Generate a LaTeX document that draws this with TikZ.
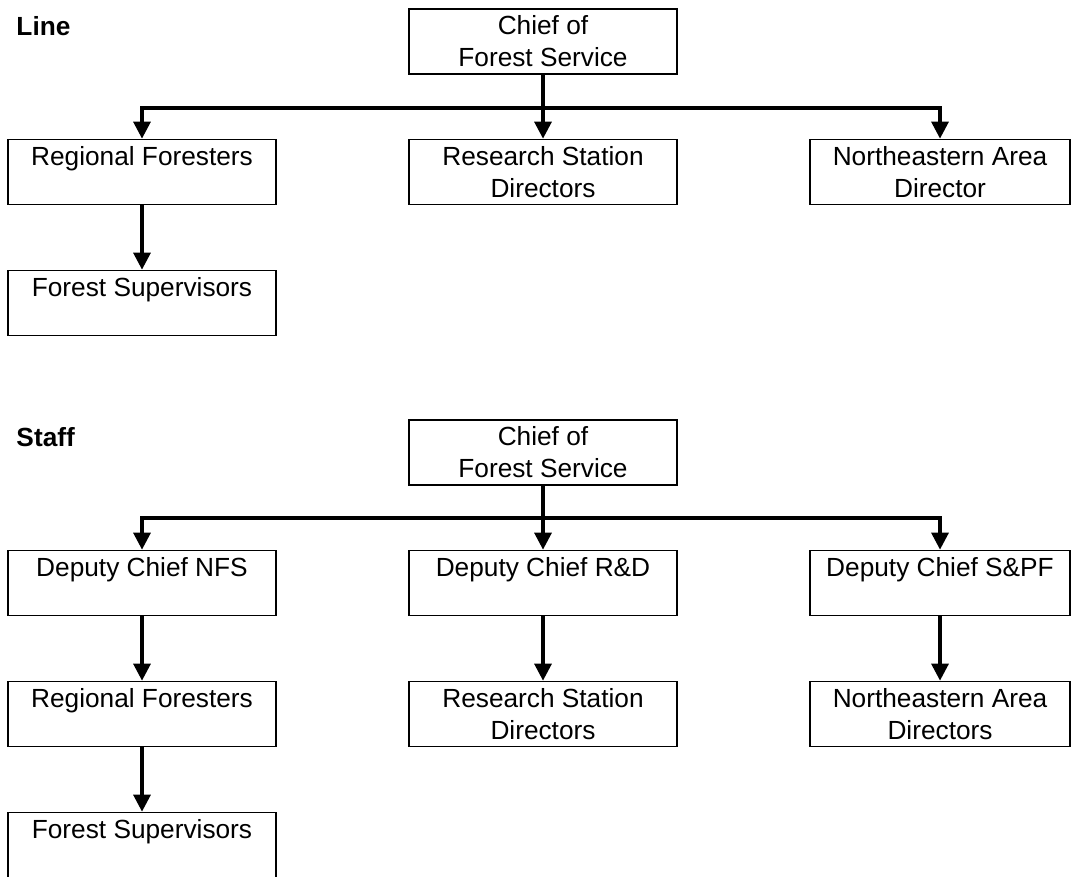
\documentclass[tikz,border=0pt]{standalone}
\usepackage{fontspec}
\setmainfont{Liberation Sans}
\usetikzlibrary{arrows.meta}
\tikzset{
  org box/.style={
    draw, rectangle, line width=0.7pt,
    minimum width=107.2pt, minimum height=26pt,
    inner sep=0pt, align=center
  },
  narrow box/.style={
    org box, minimum width=104pt
  },
  tree arrow/.style={
    -{Triangle[width=6.8pt, length=6.8pt]}, line width=1.3pt
  },
  chart title/.style={
    anchor=west, inner sep=0pt, font=\fontsize{10.5}{12.8}\selectfont\bfseries
  },
}

\begin{document}
\begin{tikzpicture}[x=0.4pt, y=-0.4pt, font=\fontsize{10.5}{12.8}\selectfont]

  \useasboundingbox (0,0) rectangle (1071,876);

  % Line organisation
  \node[chart title] (linetitle) at (16,26) {Line};
  \node[org box] (lchief) at (543,41.5) {Chief of\\Forest Service};
  \node[org box] (lregion) at (142,172) {Regional Foresters\\~};
  \node[org box] (lresearch) at (543,172) {Research Station\\Directors};
  \node[narrow box] (lnortheast) at (940,172) {Northeastern Area\\Director};
  \node[org box] (lforest) at (142,303) {Forest Supervisors\\~};

  \path (lchief.south) ++(0,33) coordinate (lbus);
  \draw[tree arrow] (lchief.south) -- (lresearch.north);
  \draw[tree arrow] (lbus) -| (lregion.north);
  \draw[tree arrow] (lbus) -| (lnortheast.north);
  \draw[tree arrow] (lregion.south) -- (lforest.north);

  % Staff organisation
  \node[chart title] (stafftitle) at (16,437) {Staff};
  \node[org box] (schief) at (543,452.5) {Chief of\\Forest Service};
  \node[org box] (snfs) at (142,583) {Deputy Chief NFS\\~};
  \node[org box] (srd) at (543,583) {Deputy Chief R\&D\\~};
  \node[narrow box] (sspf) at (940,583) {Deputy Chief S\&PF\\~};
  \node[org box] (sregion) at (142,714) {Regional Foresters\\~};
  \node[org box] (sresearch) at (543,714) {Research Station\\Directors};
  \node[narrow box] (snortheast) at (940,714) {Northeastern Area\\Directors};
  \node[org box] (sforest) at (142,845) {Forest Supervisors\\~};

  \path (schief.south) ++(0,32) coordinate (sbus);
  \draw[tree arrow] (schief.south) -- (srd.north);
  \draw[tree arrow] (sbus) -| (snfs.north);
  \draw[tree arrow] (sbus) -| (sspf.north);
  \draw[tree arrow] (snfs.south) -- (sregion.north);
  \draw[tree arrow] (srd.south) -- (sresearch.north);
  \draw[tree arrow] (sspf.south) -- (snortheast.north);
  \draw[tree arrow] (sregion.south) -- (sforest.north);

\end{tikzpicture}
\end{document}
